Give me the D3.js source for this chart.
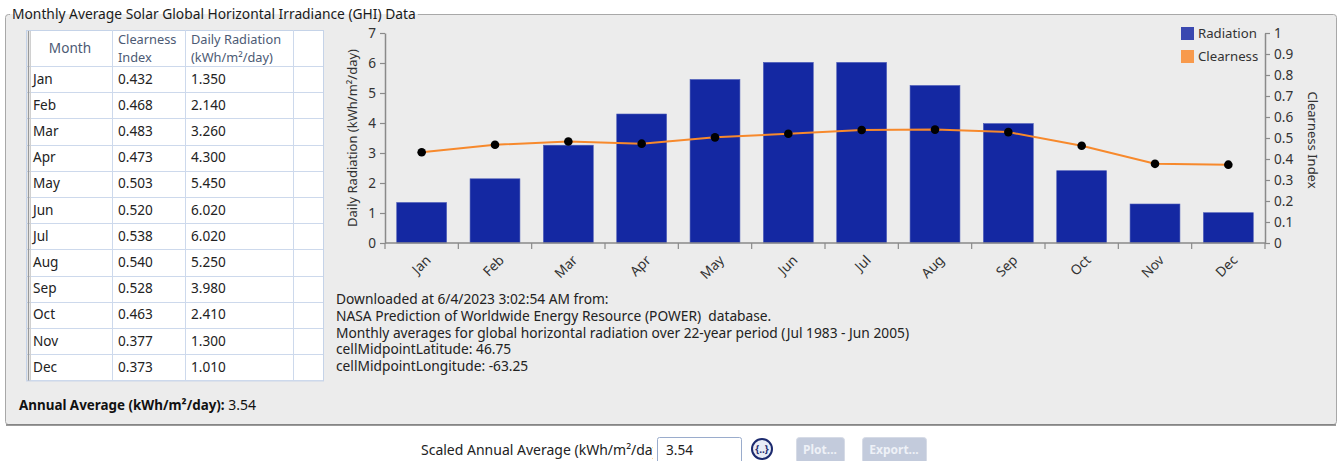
<!DOCTYPE html>
<html>
<head>
<meta charset="utf-8">
<script src="https://cdn.jsdelivr.net/npm/d3@7"></script>
<style>
  html, body { margin: 0; padding: 0; background: #ffffff; }
  svg { display: block; font-family: "Noto Sans", "Open Sans", sans-serif; }
  svg text { white-space: pre; }
</style>
</head>
<body>
<svg id="view" width="1343" height="461"></svg>
<script>
// Monthly GHI data (NASA POWER)
const months = ["Jan", "Feb", "Mar", "Apr", "May", "Jun", "Jul", "Aug", "Sep", "Oct", "Nov", "Dec"];
const clearness = [0.432, 0.468, 0.483, 0.473, 0.503, 0.520, 0.538, 0.540, 0.528, 0.463, 0.377, 0.373];
const radiation = [1.350, 2.140, 3.260, 4.300, 5.450, 6.020, 6.020, 5.250, 3.980, 2.410, 1.300, 1.010];
const radiationTicks = [0, 1, 2, 3, 4, 5, 6, 7];
const clearnessTicks = [0, 0.1, 0.2, 0.3, 0.4, 0.5, 0.6, 0.7, 0.8, 0.9, 1];
const infoLines = [
  "Downloaded at 6/4/2023 3:02:54 AM from:",
  "NASA Prediction of Worldwide Energy Resource (POWER)  database.",
  "Monthly averages for global horizontal radiation over 22-year period (Jul 1983 - Jun 2005)",
  "cellMidpointLatitude: 46.75",
  "cellMidpointLongitude: -63.25"
];

const svg = d3.select("#view");
const defs = svg.append("defs");
const BAR = "#1428a2", LINE = "#f7892c", AXIS = "#8a8a8a", TXT = "#222";
const FS = 13.6;

// ---- group box ----
svg.append("rect").attr("x", 5.5).attr("y", 14.5).attr("width", 1331).attr("height", 410)
  .attr("rx", 3).attr("fill", "#ececec").attr("stroke", "#a8a8a8");
svg.append("line").attr("x1", 6).attr("x2", 1336).attr("y1", 425).attr("y2", 425)
  .attr("stroke", "#7a7a7a").attr("stroke-width", 1.5);
const grad = defs.append("linearGradient").attr("id", "titleFade").attr("x1", 0).attr("x2", 0).attr("y1", 0).attr("y2", 1);
grad.append("stop").attr("offset", "0.5").attr("stop-color", "#ffffff");
grad.append("stop").attr("offset", "0.5").attr("stop-color", "#ececec");
const titleBg = svg.append("rect").attr("y", 6).attr("height", 16).attr("fill", "url(#titleFade)");
const titleText = svg.append("text").attr("x", 12).attr("y", 19)
  .attr("font-size", 13.8).attr("fill", "#1a1a1a")
  .text("Monthly Average Solar Global Horizontal Irradiance (GHI) Data");
titleBg.attr("x", 10).attr("width", titleText.node().getComputedTextLength() + 4);

// ---- data table ----
const tbl = { x: 26, y: 30, w: 297, headH: 36, rowH: 26.2 };
const colX = [112, 185, 293];
const tg = svg.append("g");
const tBottom = tbl.y + tbl.headH + tbl.rowH * months.length;
tg.append("rect").attr("x", tbl.x + 0.5).attr("y", tbl.y + 0.5)
  .attr("width", tbl.w).attr("height", tBottom - tbl.y)
  .attr("fill", "#ffffff").attr("stroke", "#c5d3e8");
colX.forEach(x => tg.append("line").attr("x1", x + 0.5).attr("x2", x + 0.5)
  .attr("y1", tbl.y).attr("y2", tBottom).attr("stroke", "#cdd9ec"));
d3.range(months.length + 1).forEach(i => {
  const y = Math.round(tbl.y + tbl.headH + i * tbl.rowH) + 0.5;
  tg.append("line").attr("x1", tbl.x).attr("x2", tbl.x + tbl.w).attr("y1", y).attr("y2", y)
    .attr("stroke", "#cdd9ec");
});
tg.append("line").attr("x1", 28.5).attr("x2", 28.5).attr("y1", tbl.y + 1).attr("y2", tBottom)
  .attr("stroke", "#9a9a9a").attr("stroke-width", 1.5);
tg.append("line").attr("x1", 30.5).attr("x2", 30.5).attr("y1", tbl.y + 1).attr("y2", tBottom)
  .attr("stroke", "#d0d0d0");
const HEAD = "#4c5a74";
tg.append("text").attr("x", 70).attr("y", 53).attr("text-anchor", "middle")
  .attr("font-size", FS).attr("fill", HEAD).text("Month");
// two-line column headers
[["Clearness", "Index", 118], ["Daily Radiation", "(kWh/m²/day)", 191]].forEach(([a, b, x]) => {
  tg.append("text").attr("x", x).attr("y", 44).attr("font-size", 12.8).attr("fill", HEAD).text(a);
  tg.append("text").attr("x", x).attr("y", 61.6).attr("font-size", 12.8).attr("fill", HEAD).text(b);
});
months.forEach((m, i) => {
  const y = tbl.y + tbl.headH + i * tbl.rowH + 17.5;
  tg.append("text").attr("x", 33).attr("y", y).attr("font-size", FS).attr("fill", TXT).text(m);
  tg.append("text").attr("x", 118).attr("y", y).attr("font-size", FS).attr("fill", TXT).text(clearness[i].toFixed(3));
  tg.append("text").attr("x", 191).attr("y", y).attr("font-size", FS).attr("fill", TXT).text(radiation[i].toFixed(3));
});

const annual = d3.mean(radiation);
const av = svg.append("text").attr("x", 19).attr("y", 410).attr("font-size", 13.4).attr("fill", "#111");
av.append("tspan").attr("font-weight", "bold").text("Annual Average (kWh/m²/day):");
av.append("tspan").attr("font-size", 14).text(" " + annual.toFixed(2));

// ---- chart ----
const plot = { left: 385, right: 1265, top: 33, bottom: 243 };
const x = d3.scaleBand().domain(months).range([plot.left, plot.right]).paddingInner(0.32).paddingOuter(0.16);
const xb = d3.scaleBand().domain(months).range([plot.left, plot.right]);
const yL = d3.scaleLinear().domain([0, 7]).range([plot.bottom, plot.top]);
const yR = d3.scaleLinear().domain([0, 1]).range([plot.bottom, plot.top]);
const mid = m => xb(m) + xb.bandwidth() / 2;

const cg = svg.append("g");
cg.selectAll("rect.bar").data(radiation).join("rect").attr("class", "bar")
  .attr("x", (d, i) => x(months[i])).attr("width", x.bandwidth())
  .attr("y", d => yL(d)).attr("height", d => plot.bottom - yL(d))
  .attr("fill", BAR).attr("stroke", "#4a5ab8").attr("stroke-width", 0.6);

const line = d3.line().x((d, i) => mid(months[i])).y(d => yR(d));
cg.append("path").datum(clearness).attr("d", line).attr("fill", "none")
  .attr("stroke", LINE).attr("stroke-width", 2);
cg.selectAll("circle.pt").data(clearness).join("circle").attr("class", "pt")
  .attr("cx", (d, i) => mid(months[i])).attr("cy", d => yR(d))
  .attr("r", 4.3).attr("fill", "#000");

function styleAxis(g) {
  g.selectAll(".domain").attr("stroke", AXIS).attr("stroke-width", 1.5);
  g.selectAll(".tick line").attr("stroke", AXIS).attr("stroke-width", 1.2);
  g.selectAll(".tick text").attr("fill", "#333").attr("font-size", FS)
    .attr("font-family", "'Noto Sans', sans-serif");
}
const axL = svg.append("g").attr("transform", `translate(${plot.left},0)`)
  .call(d3.axisLeft(yL).tickValues(radiationTicks).tickFormat(d3.format("d"))
    .tickSize(5).tickSizeOuter(0).tickPadding(4));
styleAxis(axL);
const axR = svg.append("g").attr("transform", `translate(${plot.right},0)`)
  .call(d3.axisRight(yR).tickValues(clearnessTicks).tickFormat(d3.format("~g"))
    .tickSize(5).tickSizeOuter(0).tickPadding(4));
styleAxis(axR);

// x axis: ticks sit on band boundaries, labels centred on each band
const axB = svg.append("g").attr("transform", `translate(0,${plot.bottom})`);
axB.append("line").attr("x1", plot.left).attr("x2", plot.right).attr("stroke", AXIS).attr("stroke-width", 1.5);
d3.range(months.length + 1).forEach(i => {
  const tx = plot.left + i * xb.step();
  axB.append("line").attr("x1", tx).attr("x2", tx).attr("y1", 0).attr("y2", 6)
    .attr("stroke", AXIS).attr("stroke-width", 1.2);
});
axB.selectAll("text.ml").data(months).join("text").attr("class", "ml")
  .attr("transform", d => `translate(${mid(d) + 10},${18}) rotate(-45)`)
  .attr("text-anchor", "end").attr("font-size", FS).attr("fill", "#333").text(d => d);

svg.append("text").attr("transform", `translate(357,138) rotate(-90)`).attr("text-anchor", "middle")
  .attr("font-size", 13).attr("fill", "#333").text("Daily Radiation (kWh/m²/day)");
svg.append("text").attr("transform", `translate(1308,140) rotate(90)`).attr("text-anchor", "middle")
  .attr("font-size", 13).attr("fill", "#333").text("Clearness Index");

// legend
const legend = [["Radiation", "#3a48b0"], ["Clearness", "#f89a4c"]];
legend.forEach(([name, c], i) => {
  svg.append("rect").attr("x", 1181).attr("y", 27 + i * 23).attr("width", 13).attr("height", 13).attr("fill", c);
  svg.append("text").attr("x", 1198).attr("y", 38 + i * 23).attr("font-size", 13.2).attr("fill", "#333").text(name);
});

// info text
svg.selectAll("text.info").data(infoLines).join("text").attr("class", "info")
  .attr("x", 336).attr("y", (d, i) => 304 + i * 16.8).attr("font-size", 13.75).attr("fill", TXT).text(d => d);

// ---- controls under the box ----
const cl = defs.append("clipPath").attr("id", "lblClip");
cl.append("rect").attr("x", 400).attr("y", 430).attr("width", 253).attr("height", 31);
svg.append("text").attr("x", 421).attr("y", 455).attr("font-size", 14).attr("fill", TXT)
  .attr("clip-path", "url(#lblClip)").text("Scaled Annual Average (kWh/m²/day):");
svg.append("rect").attr("x", 657.5).attr("y", 437.5).attr("width", 84).attr("height", 26).attr("rx", 2)
  .attr("fill", "#ffffff").attr("stroke", "#9aaccc");
svg.append("text").attr("x", 666).attr("y", 455).attr("font-size", FS).attr("fill", TXT).text(annual.toFixed(2));
svg.append("circle").attr("cx", 762).attr("cy", 449).attr("r", 10).attr("fill", "#e8ecf6")
  .attr("stroke", "#1c2a6e").attr("stroke-width", 2);
svg.append("text").attr("x", 762).attr("y", 453).attr("text-anchor", "middle").attr("font-size", 10)
  .attr("font-weight", "bold").attr("fill", "#1c2a6e").text("{..}");
[["Plot...", 796, 48], ["Export...", 862, 64]].forEach(([t, bx, bw]) => {
  svg.append("rect").attr("x", bx + 0.5).attr("y", 437.5).attr("width", bw).attr("height", 26).attr("rx", 3)
    .attr("fill", "#c3cbdc").attr("stroke", "#d6dbe6");
  svg.append("text").attr("x", bx + bw / 2).attr("y", 454).attr("text-anchor", "middle").attr("font-size", 12)
    .attr("font-weight", "bold").attr("fill", "#eef1f7").text(t);
});
</script>
</body>
</html>
